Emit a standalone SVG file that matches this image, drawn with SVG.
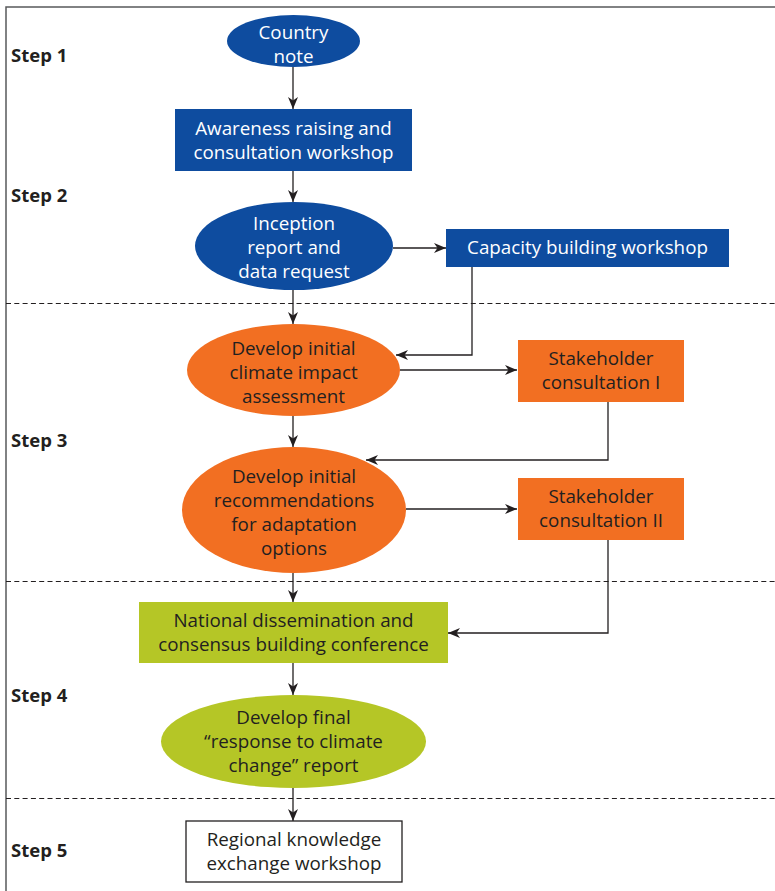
<svg xmlns="http://www.w3.org/2000/svg" width="775" height="891" viewBox="0 0 775 891">
<defs>
<marker id="ah" viewBox="0 0 12 10" refX="12" refY="5" markerWidth="12" markerHeight="10" markerUnits="userSpaceOnUse" orient="auto">
<path d="M0,0 L12,5 L0,10 L3.5,5 z" fill="#231f20"/>
</marker>
<style>
.frame{fill:none;stroke:#58595b;stroke-width:1.5}
.dash{fill:none;stroke:#231f20;stroke-width:1.2;stroke-dasharray:5,3.3}
.con{fill:none;stroke:#231f20;stroke-width:1.3;marker-end:url(#ah)}
.blue{fill:#0e4c9f}
.orange{fill:#f26f22}
.green{fill:#b5c626}
.white{fill:#ffffff;stroke:#231f20;stroke-width:1.3}
text{font-family:"Open Sans","Noto Sans",sans-serif;font-size:18.8px;text-anchor:middle}
.tw{fill:#ffffff}
.td{fill:#231f20}
.step{font-weight:bold;text-anchor:start;fill:#231f20;font-size:18.5px}
</style>
</defs>
<rect x="0" y="0" width="775" height="891" fill="#ffffff"/>
<path class="frame" d="M6,891 V7 H775"/>
<g id="dividers">
<line class="dash" x1="6" y1="303.5" x2="775" y2="303.5"/>
<line class="dash" x1="6" y1="581.5" x2="775" y2="581.5"/>
<line class="dash" x1="6" y1="798.5" x2="775" y2="798.5"/>
</g>
<g id="steps">
<text class="step" x="11" y="62">Step 1</text>
<text class="step" x="11" y="202">Step 2</text>
<text class="step" x="11" y="447">Step 3</text>
<text class="step" x="11" y="702">Step 4</text>
<text class="step" x="11" y="857">Step 5</text>
</g>
<g id="connectors">
<line class="con" x1="293" y1="67" x2="293" y2="109"/>
<line class="con" x1="293" y1="171" x2="293" y2="202"/>
<line class="con" x1="393" y1="248" x2="446" y2="248"/>
<line class="con" x1="293" y1="290" x2="293" y2="324"/>
<polyline class="con" points="472,267 472,355 396,355"/>
<line class="con" x1="400" y1="370" x2="517" y2="370"/>
<line class="con" x1="293" y1="416" x2="293" y2="447"/>
<polyline class="con" points="608,402 608,460 366,460"/>
<line class="con" x1="406" y1="509" x2="517" y2="509"/>
<line class="con" x1="293" y1="573" x2="293" y2="602"/>
<polyline class="con" points="608,540 608,633 448,633"/>
<line class="con" x1="293" y1="663" x2="293" y2="695"/>
<line class="con" x1="293" y1="788" x2="293" y2="821"/>
</g>
<g id="country-note">
<ellipse class="blue" cx="293.5" cy="41" rx="66.5" ry="26"/>
<text class="tw" x="293.5" y="39">Country</text>
<text class="tw" x="293.5" y="63">note</text>
</g>
<g id="awareness">
<rect class="blue" x="175" y="109" width="237" height="62"/>
<text class="tw" x="293.5" y="135">Awareness raising and</text>
<text class="tw" x="293.5" y="159">consultation workshop</text>
</g>
<g id="inception">
<ellipse class="blue" cx="294" cy="246" rx="99" ry="44"/>
<text class="tw" x="294" y="230">Inception</text>
<text class="tw" x="294" y="254">report and</text>
<text class="tw" x="294" y="278">data request</text>
</g>
<g id="capacity">
<rect class="blue" x="446" y="229" width="283" height="38"/>
<text class="tw" x="587.5" y="254">Capacity building workshop</text>
</g>
<g id="impact">
<ellipse class="orange" cx="293.5" cy="370" rx="106.5" ry="46"/>
<text class="td" x="293.5" y="355">Develop initial</text>
<text class="td" x="293.5" y="379">climate impact</text>
<text class="td" x="293.5" y="403">assessment</text>
</g>
<g id="stakeholder-1">
<rect class="orange" x="518" y="340" width="166" height="62"/>
<text class="td" x="601" y="365">Stakeholder</text>
<text class="td" x="601" y="389">consultation I</text>
</g>
<g id="recommendations">
<ellipse class="orange" cx="294" cy="510" rx="112" ry="63"/>
<text class="td" x="294" y="483">Develop initial</text>
<text class="td" x="294" y="507">recommendations</text>
<text class="td" x="294" y="531">for adaptation</text>
<text class="td" x="294" y="555">options</text>
</g>
<g id="stakeholder-2">
<rect class="orange" x="518" y="478" width="166" height="62"/>
<text class="td" x="601" y="503">Stakeholder</text>
<text class="td" x="601" y="527">consultation II</text>
</g>
<g id="national">
<rect class="green" x="139" y="602" width="309" height="61"/>
<text class="td" x="293.5" y="627">National dissemination and</text>
<text class="td" x="293.5" y="651">consensus building conference</text>
</g>
<g id="final-report">
<ellipse class="green" cx="293.5" cy="741.5" rx="132.5" ry="46.5"/>
<text class="td" x="293.5" y="724">Develop final</text>
<text class="td" x="293.5" y="748">“response to climate</text>
<text class="td" x="293.5" y="772">change” report</text>
</g>
<g id="regional">
<rect class="white" x="186" y="821" width="216" height="61"/>
<text class="td" x="294" y="846">Regional knowledge</text>
<text class="td" x="294" y="870">exchange workshop</text>
</g>
</svg>
